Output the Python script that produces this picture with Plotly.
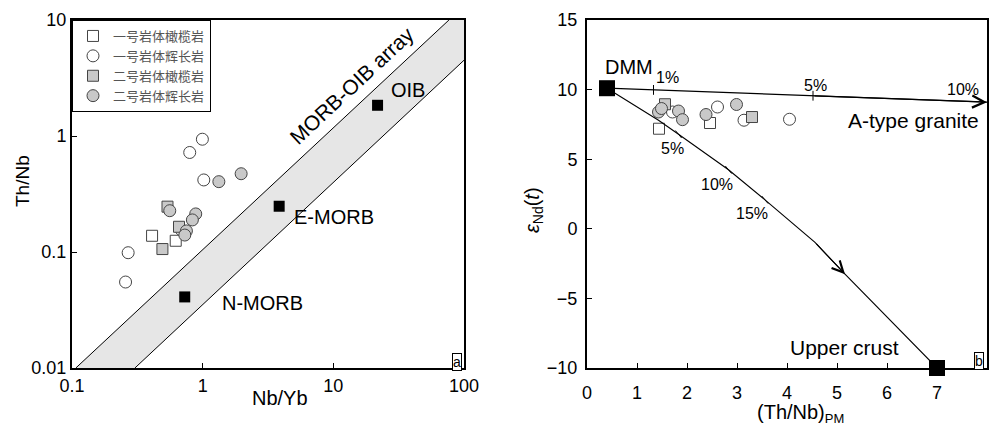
import numpy as np
import plotly.graph_objects as go

# ---------------- Panel a : Th/Nb vs Nb/Yb ----------------
legend_names = ["一号岩体橄榄岩", "一号岩体辉长岩", "二号岩体橄榄岩", "二号岩体辉长岩"]

a_sq1_x = [0.410, 0.622]
a_sq1_y = [0.138, 0.125]
a_ci1_x = [0.995, 0.796, 1.02, 0.687, 0.269, 0.257]
a_ci1_y = [0.938, 0.721, 0.418, 0.155, 0.0986, 0.0551]
a_sq2_x = [0.538, 0.659, 0.492]
a_sq2_y = [0.246, 0.165, 0.106]
a_ci2_x = [0.560, 0.885, 0.834, 0.751, 0.730, 1.33, 1.97]
a_ci2_y = [0.227, 0.213, 0.189, 0.152, 0.140, 0.404, 0.473]

ref_names = ["N-MORB", "E-MORB", "OIB"]
ref_x = [0.729, 3.85, 21.8]
ref_y = [0.041, 0.248, 1.84]

array_upper_x = [0.107, 76.7]
array_upper_y = [0.01, 10.0]
array_lower_x = [0.303, 100.0]
array_lower_y = [0.01, 4.5]

a_xrange = [0.1, 100]
a_yrange = [0.01, 10]
a_xticks = [0.1, 1, 10, 100]
a_xticklabels = ["0.1", "1", "10", "100"]
a_yticks = [0.01, 0.1, 1, 10]
a_yticklabels = ["0.01", "0.1", "1", "10"]

# ---------------- Panel b : eNd(t) vs (Th/Nb)PM ----------------
b_sq1_x = [1.44, 2.46]
b_sq1_y = [7.19, 7.60]
b_ci1_x = [1.71, 2.61, 3.14, 4.05]
b_ci1_y = [8.39, 8.75, 7.80, 7.87]
b_sq2_x = [1.56, 3.30]
b_sq2_y = [8.95, 8.03]
b_ci2_x = [1.43, 1.49, 1.83, 1.91, 2.38, 2.99]
b_ci2_y = [8.39, 8.64, 8.46, 7.84, 8.21, 8.93]

end_names = ["DMM", "Upper crust"]
end_x = [0.4, 7.0]
end_y = [10.1, -10.0]

granite_x = [0.4, 8.0]
granite_y = [10.1, 9.1]
granite_tick_labels = ["1%", "5%", "10%"]
granite_tick_x = [1.33, 4.52, 8.0]

crust_x = [0.4, 1.43, 1.83, 2.83, 3.56, 4.56, 5.16, 7.0]
crust_y = [10.1, 7.80, 6.79, 4.24, 2.08, -0.98, -3.26, -10.0]
crust_tick_labels = ["5%", "10%", "15%"]
crust_tick_x = [1.83, 2.83, 3.56]
crust_tick_y = [6.79, 4.24, 2.08]

b_xrange = [0, 8]
b_yrange = [-10, 15]

# ---------------- styles ----------------
FONT = "Arial, Liberation Sans, sans-serif"
GRAY_FILL = "#c9c9c9"
EDGE = "#444444"
LBL = 20
styles = [
    dict(symbol="square", color="white", size=11),
    dict(symbol="circle", color="white", size=12),
    dict(symbol="square", color=GRAY_FILL, size=11),
    dict(symbol="circle", color=GRAY_FILL, size=12),
]

fig = go.Figure()

# MORB-OIB array band
band_x = array_upper_x + [a_xrange[1], a_xrange[1]] + array_lower_x[::-1]
band_y = array_upper_y + [a_yrange[1], array_lower_y[1]] + array_lower_y[::-1]
fig.add_trace(go.Scatter(x=band_x, y=band_y, mode="lines", fill="toself",
                         fillcolor="#e6e6e6", line=dict(width=0), hoverinfo="skip",
                         showlegend=False, xaxis="x", yaxis="y"))
for lx, ly in [(array_upper_x, array_upper_y), (array_lower_x, array_lower_y)]:
    fig.add_trace(go.Scatter(x=lx, y=ly, mode="lines", line=dict(color="black", width=1),
                             showlegend=False, xaxis="x", yaxis="y"))

a_sets = [(a_sq1_x, a_sq1_y), (a_ci1_x, a_ci1_y), (a_sq2_x, a_sq2_y), (a_ci2_x, a_ci2_y)]
b_sets = [(b_sq1_x, b_sq1_y), (b_ci1_x, b_ci1_y), (b_sq2_x, b_sq2_y), (b_ci2_x, b_ci2_y)]
for i, name in enumerate(legend_names):
    st = styles[i]
    mk = dict(symbol=st["symbol"], color=st["color"], size=st["size"],
              line=dict(color=EDGE, width=1))
    fig.add_trace(go.Scatter(x=a_sets[i][0], y=a_sets[i][1], mode="markers", name=name,
                             marker=mk, legendgroup=name, showlegend=True,
                             xaxis="x", yaxis="y"))
    fig.add_trace(go.Scatter(x=b_sets[i][0], y=b_sets[i][1], mode="markers", name=name,
                             marker=mk, legendgroup=name, showlegend=False,
                             xaxis="x2", yaxis="y2"))

# reference compositions (black)
fig.add_trace(go.Scatter(x=ref_x, y=ref_y, mode="markers",
                         marker=dict(symbol="square", color="black", size=11),
                         showlegend=False, xaxis="x", yaxis="y"))

# panel b mixing lines
fig.add_trace(go.Scatter(x=granite_x, y=granite_y, mode="lines",
                         line=dict(color="black", width=1.3), showlegend=False,
                         xaxis="x2", yaxis="y2", cliponaxis=False))
fig.add_trace(go.Scatter(x=crust_x, y=crust_y, mode="lines",
                         line=dict(color="black", width=1.1), showlegend=False,
                         xaxis="x2", yaxis="y2", cliponaxis=False))
granite_tick_y = list(np.interp(granite_tick_x, granite_x, granite_y))
fig.add_trace(go.Scatter(x=granite_tick_x[:2], y=granite_tick_y[:2], mode="markers",
                         marker=dict(symbol="line-ns", size=7, line=dict(color="black", width=1)),
                         showlegend=False, xaxis="x2", yaxis="y2"))
fig.add_trace(go.Scatter(x=crust_tick_x, y=crust_tick_y, mode="markers",
                         marker=dict(symbol="line-ns", size=7, angle=-40,
                                     line=dict(color="black", width=1)),
                         showlegend=False, xaxis="x2", yaxis="y2"))
fig.add_trace(go.Scatter(x=end_x, y=end_y, mode="markers",
                         marker=dict(symbol="square", color="black", size=16),
                         showlegend=False, xaxis="x2", yaxis="y2", cliponaxis=False))

C = dict(xanchor="center", yanchor="middle")
ann = []
# panel a labels
ref_shift = {"N-MORB": (78, 6), "E-MORB": (55, 11), "OIB": (30, -15)}
for n, x, y in zip(ref_names, ref_x, ref_y):
    dx, dy = ref_shift[n]
    ann.append(dict(x=np.log10(x), y=np.log10(y), xref="x", yref="y", text=n,
                    showarrow=False, xshift=dx, yshift=-dy, **C,
                    font=dict(size=LBL, family=FONT, color="black")))
ann.append(dict(x=352 / 991, y=1 - 86 / 428, xref="paper", yref="paper",
                text="MORB-OIB array", textangle=-43, showarrow=False, **C,
                font=dict(size=21, family=FONT, color="black")))
ann.append(dict(x=456.5 / 991, y=1 - 361.5 / 428, xref="paper", yref="paper", text="a",
                showarrow=False, bordercolor="black", borderwidth=1, borderpad=0, **C,
                bgcolor="white", font=dict(size=14, family=FONT, color="black")))
ann.append(dict(x=22 / 991, y=1 - 181 / 428, xref="paper", yref="paper", text="Th/Nb",
                textangle=-90, showarrow=False, **C,
                font=dict(size=19, family=FONT, color="black")))
ann.append(dict(x=280 / 991, y=1 - 398 / 428, xref="paper", yref="paper", text="Nb/Yb",
                showarrow=False, **C, font=dict(size=20, family=FONT, color="black")))

# panel b labels
ann.append(dict(x=end_x[0], y=end_y[0], xref="x2", yref="y2", text=end_names[0],
                showarrow=False, xshift=22, yshift=21, **C,
                font=dict(size=LBL, family=FONT, color="black")))
ann.append(dict(x=end_x[1], y=end_y[1], xref="x2", yref="y2", text=end_names[1],
                showarrow=False, xshift=-93, yshift=21, **C,
                font=dict(size=21, family=FONT, color="black")))
g_shift = [(14, 12), (2, 10), (-24, 13)]
for t, x, y, (dx, dy) in zip(granite_tick_labels, granite_tick_x, granite_tick_y, g_shift):
    ann.append(dict(x=x, y=y, xref="x2", yref="y2", text=t, showarrow=False, **C,
                    xshift=dx, yshift=dy, font=dict(size=16, family=FONT, color="black")))
c_shift = [(-6, -14), (-12, -15), (-13, -14)]
for t, x, y, (dx, dy) in zip(crust_tick_labels, crust_tick_x, crust_tick_y, c_shift):
    ann.append(dict(x=x, y=y, xref="x2", yref="y2", text=t, showarrow=False, **C,
                    xshift=dx, yshift=dy, font=dict(size=16, family=FONT, color="black")))
ann.append(dict(x=granite_x[-1], y=granite_y[-1], xref="x2", yref="y2",
                text="A-type granite", showarrow=False, xanchor="right", yanchor="middle",
                xshift=-6, yshift=-18,
                font=dict(size=21, family=FONT, color="black")))
# arrows
ann.append(dict(x=granite_x[-1], y=granite_y[-1], ax=granite_tick_x[1], ay=granite_tick_y[1],
                xref="x2", yref="y2", axref="x2", ayref="y2", text="", showarrow=True,
                arrowhead=5, arrowsize=2, arrowwidth=1.2, arrowcolor="black", standoff=0))
ann.append(dict(x=crust_x[6], y=crust_y[6], ax=crust_x[5], ay=crust_y[5],
                xref="x2", yref="y2", axref="x2", ayref="y2", text="", showarrow=True,
                arrowhead=5, arrowsize=2, arrowwidth=1.1, arrowcolor="black", standoff=0))
ann.append(dict(x=978.5 / 991, y=1 - 361 / 428, xref="paper", yref="paper", text="b",
                showarrow=False, bordercolor="black", borderwidth=1, borderpad=0, **C,
                bgcolor="white", font=dict(size=14, family=FONT, color="black")))
ann.append(dict(x=533 / 991, y=1 - 210 / 428, xref="paper", yref="paper",
                text="<i>ε</i><sub>Nd</sub>(<i>t</i>)", textangle=-90, showarrow=False, **C,
                font=dict(size=20, family=FONT, color="black")))
ann.append(dict(x=800 / 991, y=1 - 413 / 428, xref="paper", yref="paper",
                text="(Th/Nb)<sub><span style='font-size:13px'>PM</span></sub>",
                showarrow=False, **C,
                font=dict(size=20, family=FONT, color="black")))

axis_common = dict(showline=True, mirror=True, linewidth=2, linecolor="black",
                   ticks="inside", ticklen=5, tickwidth=1, tickcolor="black",
                   showgrid=False, zeroline=False, automargin=False,
                   tickfont=dict(size=18, family=FONT, color="black"))

ydom = [1 - 368 / 428, 1 - 20 / 428]
fig.update_layout(
    template="none",
    width=991, height=428, margin=dict(l=0, r=0, t=0, b=0, pad=0),
    paper_bgcolor="white", plot_bgcolor="white",
    font=dict(family=FONT, color="black"),
    xaxis=dict(type="log", range=[np.log10(a_xrange[0]), np.log10(a_xrange[1])],
               domain=[72 / 991, 464 / 991], tickvals=a_xticks, ticktext=a_xticklabels,
               anchor="y", **axis_common),
    yaxis=dict(type="log", range=[np.log10(a_yrange[0]), np.log10(a_yrange[1])],
               domain=ydom, tickvals=a_yticks, ticktext=a_yticklabels,
               anchor="x", **axis_common),
    xaxis2=dict(range=b_xrange, dtick=1, domain=[587 / 991, 987 / 991], anchor="y2",
                ticklabelstandoff=7, **axis_common),
    yaxis2=dict(range=b_yrange, dtick=5, domain=ydom, anchor="x2",
                ticklabelstandoff=4, **axis_common),
    legend=dict(x=72 / 991, y=1 - 20 / 428, xanchor="left", yanchor="top",
                bordercolor="black", borderwidth=1, bgcolor="white",
                font=dict(size=13, family="Noto Sans CJK SC", color="#555555"),
                itemsizing="trace", tracegroupgap=0),
    annotations=ann,
    showlegend=True,
)

fig.write_html("out.html")
